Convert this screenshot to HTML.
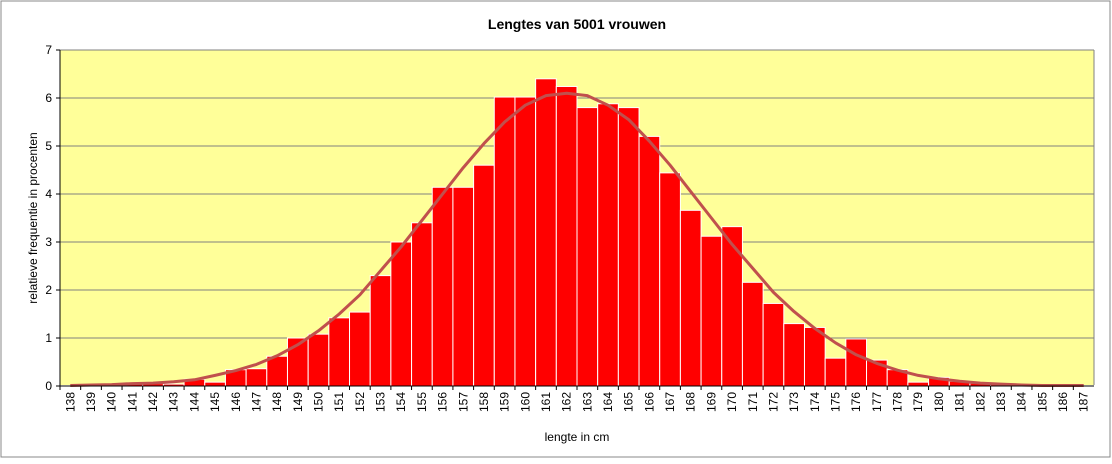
<!DOCTYPE html>
<html><head><meta charset="utf-8"><style>
body{margin:0;background:#fff;}
svg text{font-family:"Liberation Sans",sans-serif;}
</style></head><body>
<svg width="1112" height="459">
<rect x="1" y="1" width="1109" height="456" fill="#fff" stroke="#888"/>
<text x="577" y="29" text-anchor="middle" font-size="14" font-weight="bold">Lengtes van 5001 vrouwen</text>
<rect x="60" y="50" width="1034" height="336" fill="#ffff99"/>
<g id="grid"></g><g id="bars"></g><g id="curve"></g><g id="axes"></g>
<text transform="translate(37,218) rotate(-90)" text-anchor="middle" font-size="12">relatieve frequentie in procenten</text>
<text x="577" y="441" text-anchor="middle" font-size="12">lengte in cm</text>
</svg>
<script>
const categories=[138,139,140,141,142,143,144,145,146,147,148,149,150,151,152,153,154,155,156,157,158,159,160,161,162,163,164,165,166,167,168,169,170,171,172,173,174,175,176,177,178,179,180,181,182,183,184,185,186,187];
const freqValues=[0.01,0.01,0.02,0.06,0.05,0.04,0.14,0.08,0.34,0.36,0.62,1.0,1.08,1.42,1.54,2.3,3.0,3.4,4.14,4.14,4.6,6.02,6.02,6.4,6.24,5.8,5.88,5.8,5.2,4.44,3.66,3.12,3.32,2.16,1.72,1.3,1.22,0.58,0.98,0.54,0.34,0.08,0.18,0.1,0.06,0.03,0.02,0.02,0.01,0.01];
const curveValues=[0.01,0.02,0.03,0.05,0.06,0.09,0.13,0.22,0.32,0.45,0.63,0.86,1.15,1.5,1.9,2.4,2.9,3.45,4.0,4.55,5.05,5.5,5.85,6.05,6.1,6.05,5.85,5.55,5.1,4.6,4.05,3.5,2.95,2.45,1.95,1.55,1.2,0.9,0.65,0.47,0.33,0.22,0.15,0.1,0.06,0.04,0.02,0.01,0.01,0.01];
const yTicks=[0,1,2,3,4,5,6,7];
const NS='http://www.w3.org/2000/svg';
const L=60,R=1094,T=50,B=386,yMax=7;
const bw=(R-L)/categories.length;
const xs=i=>L+i*bw, ys=v=>B-v/yMax*(B-T);
function mk(t,a,p){const e=document.createElementNS(NS,t);for(const k in a)e.setAttribute(k,a[k]);p.appendChild(e);return e;}
const grid=document.getElementById('grid'),bars=document.getElementById('bars'),cur=document.getElementById('curve'),axes=document.getElementById('axes');
yTicks.forEach(v=>{
 if(v>0){const g=mk('line',{x1:L,x2:R,y1:ys(v),y2:ys(v),stroke:'#808080','stroke-width':1},grid);
 
 }
 const tk=mk('line',{x1:L-4,x2:L,y1:ys(v),y2:ys(v),stroke:'#000'},axes);
 
 
 const t=mk('text',{x:L-8,y:ys(v)+4,'text-anchor':'end','font-size':12},axes);t.textContent=v;
 
 
});
mk('line',{x1:R,x2:R,y1:T,y2:B,stroke:'#808080'},grid);
categories.forEach((c,i)=>{
 const r=mk('rect',{x:xs(i),y:ys(freqValues[i]),width:bw,height:B-ys(freqValues[i]),fill:'#ff0000',stroke:'#ffffff','stroke-width':1},bars);
 
 
 const tk=mk('line',{x1:xs(i),x2:xs(i),y1:B,y2:B+4,stroke:'#000'},axes);
 
 
 const cx=xs(i)+bw/2;
 const t=mk('text',{transform:`translate(${cx+4},392) rotate(-90)`,'text-anchor':'end','font-size':12},axes);t.textContent=c;
 
 
});
let d='';
categories.forEach((c,i)=>{const x=xs(i)+bw/2,y=ys(curveValues[i]);d+=(i?'L':'M')+x.toFixed(1)+','+y.toFixed(1);});
const p=mk('path',{d:d,fill:'none',stroke:'#c0504d','stroke-width':3,'stroke-linejoin':'round'},cur);


const ax1=mk('line',{x1:L,x2:L,y1:T,y2:B,stroke:'#000'},axes);


const ax2=mk('line',{x1:L,x2:R,y1:B,y2:B,stroke:'#000'},axes);


</script>
</body></html>
